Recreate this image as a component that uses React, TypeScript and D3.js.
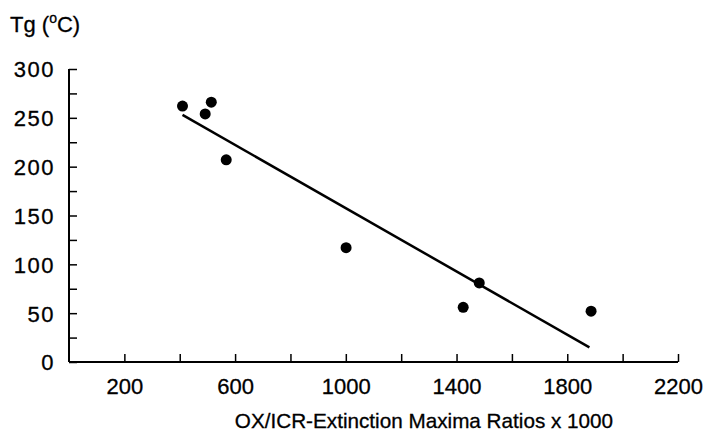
import React, { useEffect, useRef } from 'react';
import * as d3 from 'd3';

const ratios = [410, 492, 514, 568, 1001, 1424, 1482, 1886];
const tgValues = [262, 254, 266, 207, 117, 56, 81, 52];
const fitX = [410, 1880];
const fitY = [253, 15];
const xLabelTicks = [200, 600, 1000, 1400, 1800, 2200];

const W = 708;
const H = 442;

export default function App() {
  const ref = useRef<SVGSVGElement>(null);

  useEffect(() => {
    const svg = d3.select(ref.current);
    svg.selectAll('*').remove();

    const x = d3.scaleLinear().domain([0, 2200]).range([69, 678]);
    const y = d3.scaleLinear().domain([0, 300]).range([362, 69]);
    const font = '"Liberation Sans", Arial, sans-serif';

    // x axis: ticks every 200, labels every 400
    const xAxis = d3
      .axisBottom(x)
      .tickValues(d3.range(200, 2201, 200))
      .tickSizeInner(-8)
      .tickSizeOuter(0)
      .tickFormat(d => (xLabelTicks.includes(+d) ? String(d) : ''));
    const gx = svg.append('g').attr('transform', `translate(0,${y(0)})`).call(xAxis);
    gx.select('.domain').attr('stroke-width', 2).attr('d', `M${x(0)},0H${x(2200)}`);
    gx.selectAll('line').attr('stroke-width', 1.5);
    gx.selectAll('text')
      .attr('font-family', font)
      .attr('font-size', 22)
      .attr('fill', '#000')
      .attr('stroke', '#000')
      .attr('stroke-width', 0.3)
      .attr('y', 16)
      .attr('dy', '0.71em');

    // y axis: ticks every 25, labels every 50
    const yAxis = d3
      .axisLeft(y)
      .tickValues(d3.range(0, 301, 25))
      .tickSizeInner(-8)
      .tickSizeOuter(0)
      .tickFormat(d => (+d % 50 === 0 ? String(d) : ''));
    const gy = svg.append('g').attr('transform', `translate(${x(0)},0)`).call(yAxis);
    gy.select('.domain').attr('stroke-width', 2).attr('d', `M0,${y(0)}V${y(300)}`);
    gy.selectAll('line').attr('stroke-width', 1.5);
    gy.selectAll('text')
      .attr('font-family', font)
      .attr('font-size', 22)
      .attr('letter-spacing', 1.5)
      .attr('fill', '#000')
      .attr('stroke', '#000')
      .attr('stroke-width', 0.3)
      .attr('x', -14)
      .attr('dy', '0.36em');

    // fit line
    const line = d3
      .line<number>()
      .x(i => x(fitX[i]))
      .y(i => y(fitY[i]));
    svg
      .append('path')
      .attr('d', line([0, 1]))
      .attr('fill', 'none')
      .attr('stroke', '#000')
      .attr('stroke-width', 2.5);

    // points
    svg
      .append('g')
      .selectAll('circle')
      .data(ratios)
      .join('circle')
      .attr('cx', d => x(d))
      .attr('cy', (d, i) => y(tgValues[i]))
      .attr('r', 5.5)
      .attr('fill', '#000');

    // y title
    const t = svg
      .append('text')
      .attr('x', 10)
      .attr('y', 32)
      .attr('font-family', font)
      .attr('font-size', 22)
      .attr('fill', '#000')
      .attr('stroke', '#000')
      .attr('stroke-width', 0.3);
    t.append('tspan').text('Tg (');
    t.append('tspan').attr('font-size', 14).attr('dy', -9).text('o');
    t.append('tspan').attr('dy', 9).text('C)');

    // x title
    svg
      .append('text')
      .attr('x', 424)
      .attr('y', 428)
      .attr('text-anchor', 'middle')
      .attr('font-family', font)
      .attr('font-size', 20.7)
      .attr('fill', '#000')
      .attr('stroke', '#000')
      .attr('stroke-width', 0.3)
      .text('OX/ICR-Extinction Maxima Ratios x 1000');
  }, []);

  return (
    <svg
      ref={ref}
      width={W}
      height={H}
      style={{ position: 'absolute', left: 0, top: 0, background: '#fff' }}
    />
  );
}
